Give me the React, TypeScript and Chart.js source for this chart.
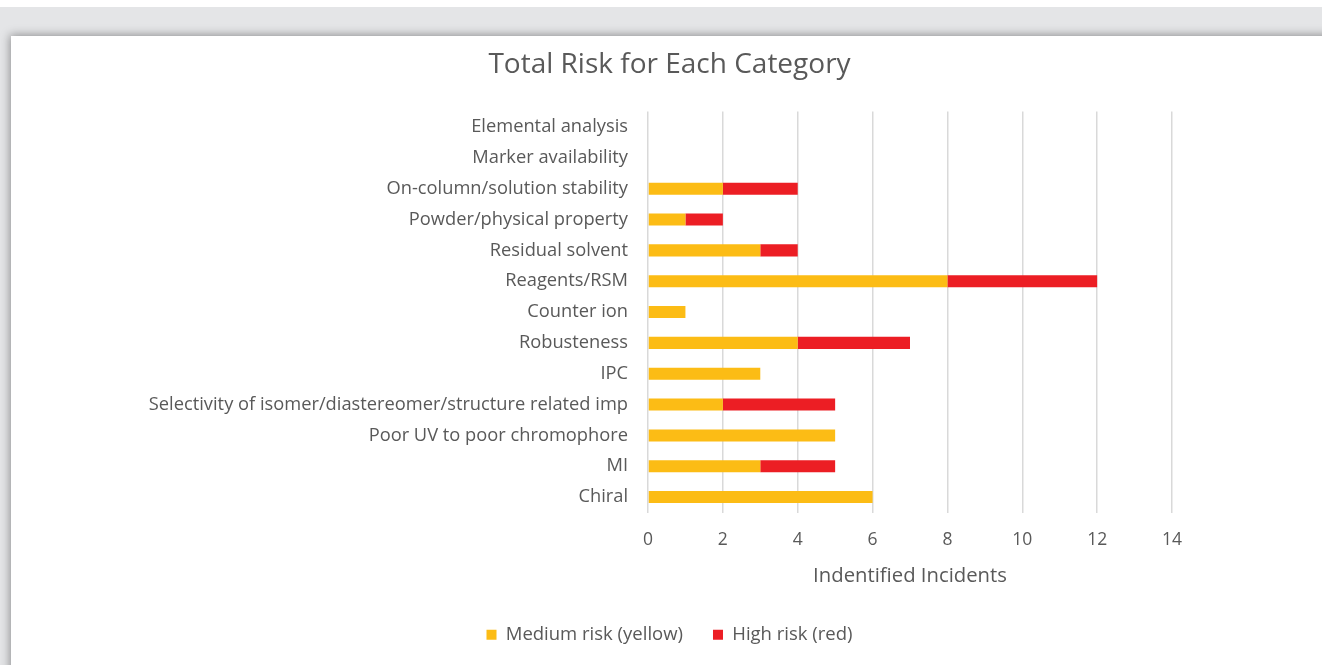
import React, { useEffect, useRef } from "react";
import { Chart, registerables } from "chart.js";

Chart.register(...registerables);

const categories = [
  "Elemental analysis",
  "Marker availability",
  "On-column/solution stability",
  "Powder/physical property",
  "Residual solvent",
  "Reagents/RSM",
  "Counter ion",
  "Robusteness",
  "IPC",
  "Selectivity of isomer/diastereomer/structure related imp",
  "Poor UV to poor chromophore",
  "MI",
  "Chiral",
];

const mediumRisk = [0, 0, 2, 1, 3, 8, 1, 4, 3, 2, 5, 3, 6];
const highRisk = [0, 0, 2, 1, 1, 4, 0, 3, 0, 3, 0, 2, 0];

const xTicks = [0, 2, 4, 6, 8, 10, 12, 14];

const FONT = "'Open Sans', Lato, sans-serif";
const TEXT = "#595959";

export default function App() {
  const canvasRef = useRef<HTMLCanvasElement | null>(null);

  useEffect(() => {
    const canvas = canvasRef.current;
    if (!canvas) return;
    const chart = new Chart(canvas, {
      type: "bar",
      data: {
        labels: categories,
        datasets: [
          {
            label: "Medium risk (yellow)",
            data: mediumRisk,
            backgroundColor: "#FCBC15",
            barPercentage: 0.39,
            categoryPercentage: 1,
          },
          {
            label: "High risk (red)",
            data: highRisk,
            backgroundColor: "#EC1E24",
            barPercentage: 0.39,
            categoryPercentage: 1,
          },
        ],
      },
      options: {
        indexAxis: "y",
        animation: false,
        responsive: false,
        maintainAspectRatio: false,
        layout: { padding: { left: 6, right: 0, top: 0, bottom: 11 } },
        scales: {
          x: {
            stacked: true,
            min: 0,
            max: 14,
            afterBuildTicks: (scale: any) => {
              scale.ticks = xTicks.map((v) => ({ value: v }));
            },
            border: { display: false },
            grid: { color: "#D9D9D9", lineWidth: 1.5, drawTicks: false },
            ticks: {
              color: TEXT,
              font: { family: FONT, size: 17.5 },
              padding: 17,
            },
            title: {
              display: true,
              text: "Indentified Incidents",
              color: TEXT,
              font: { family: FONT, size: 20.3 },
              padding: { top: 8, bottom: 7 },
            },
            afterFit: (scale: any) => {
              scale.height = 83;
            },
          },
          y: {
            stacked: true,
            border: { display: false },
            grid: { display: false, drawTicks: false },
            ticks: {
              color: TEXT,
              font: { family: FONT, size: 18.3 },
              padding: 20,
              autoSkip: false,
            },
            afterFit: (scale: any) => {
              scale.width = 631;
            },
          },
          // empty right-hand axis that reserves space after the 14 gridline
          yRight: {
            type: "category",
            position: "right",
            display: true,
            border: { display: false },
            grid: { display: false, drawTicks: false },
            ticks: { display: false },
            afterFit: (scale: any) => {
              scale.width = 150;
            },
          },
        },
        plugins: {
          title: {
            display: true,
            text: "Total Risk for Each Category",
            color: TEXT,
            font: { family: FONT, size: 28, weight: "normal" },
            padding: { top: 12, bottom: 30 },
          },
          legend: {
            position: "bottom",
            labels: {
              color: TEXT,
              font: { family: FONT, size: 18.5 },
              boxWidth: 10,
              boxHeight: 10,
              padding: 30,
            },
          },
          tooltip: { enabled: false },
        },
      },
    });
    return () => chart.destroy();
  }, []);

  return (
    <div
      style={{
        position: "fixed",
        inset: 0,
        background: "#ffffff",
        overflow: "hidden",
      }}
    >
      <div
        style={{
          position: "absolute",
          left: 0,
          top: 7,
          right: 0,
          bottom: 0,
          background: "#E4E5E7",
        }}
      />
      <div
        style={{
          position: "absolute",
          left: 11,
          top: 36,
          width: 1322,
          height: 640,
          background: "#ffffff",
          boxShadow: "0 0 9px 1px rgba(0,0,0,0.38)",
        }}
      >
        <canvas ref={canvasRef} width={1311} height={629} />
      </div>
    </div>
  );
}
